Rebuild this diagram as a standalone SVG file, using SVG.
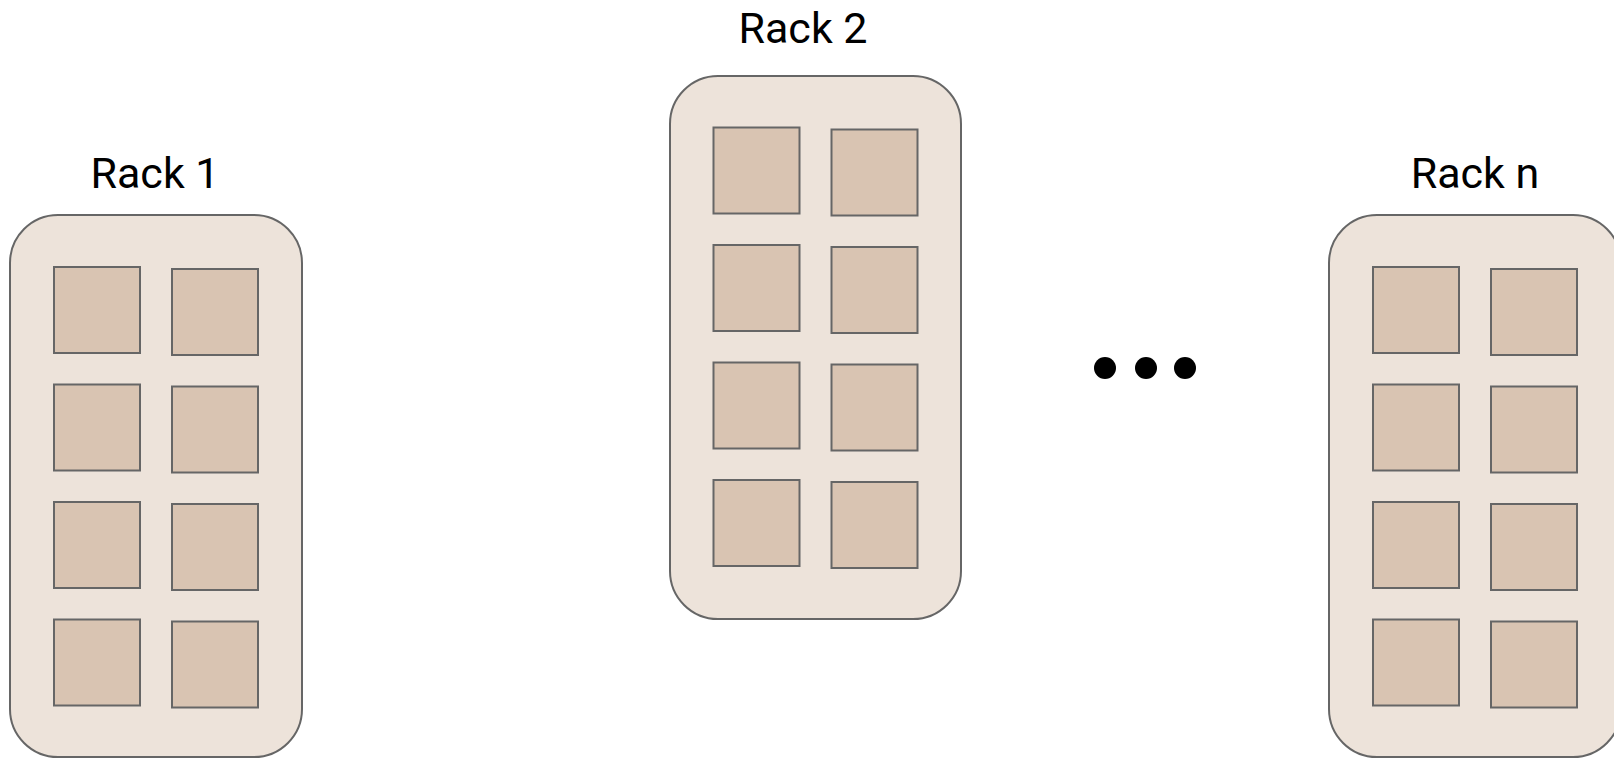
<svg xmlns="http://www.w3.org/2000/svg" width="1614" height="758" viewBox="0 0 1614 758">
<style>
.rack{fill:#ede3da;stroke:#666666;stroke-width:2}
.srv{fill:#d9c4b2;stroke:#666666;stroke-width:2}
.lbl{font-family:Roboto,"Liberation Sans",sans-serif;font-size:43px;fill:#000000;text-anchor:middle}
</style>
<defs>
<g id="servers">
<rect class="srv" x="54" y="267" width="86" height="86"/>
<rect class="srv" x="172" y="269" width="86" height="86"/>
<rect class="srv" x="54" y="384.5" width="86" height="86"/>
<rect class="srv" x="172" y="386.5" width="86" height="86"/>
<rect class="srv" x="54" y="502" width="86" height="86"/>
<rect class="srv" x="172" y="504" width="86" height="86"/>
<rect class="srv" x="54" y="619.5" width="86" height="86"/>
<rect class="srv" x="172" y="621.5" width="86" height="86"/>
</g>
</defs>
<rect width="1614" height="758" fill="#ffffff"/>
<g id="rack1">
<text class="lbl" x="155" y="188">Rack 1</text>
<rect class="rack" x="10" y="215" width="292" height="542" rx="48" ry="48"/>
<use href="#servers"/>
</g>
<g id="rack2">
<text class="lbl" x="803" y="43">Rack 2</text>
<rect class="rack" x="670" y="76" width="291" height="543" rx="48" ry="48"/>
<use href="#servers" transform="translate(659.5,-139.5)"/>
</g>
<g id="ellipsis">
<circle cx="1105" cy="368" r="11" fill="#000000"/>
<circle cx="1146" cy="368" r="11" fill="#000000"/>
<circle cx="1185" cy="368" r="11" fill="#000000"/>
</g>
<g id="rackn">
<text class="lbl" x="1475" y="188">Rack n</text>
<rect class="rack" x="1329" y="215" width="292" height="542" rx="48" ry="48"/>
<use href="#servers" transform="translate(1319,0)"/>
</g>
<g id="connectors"/>
</svg>
